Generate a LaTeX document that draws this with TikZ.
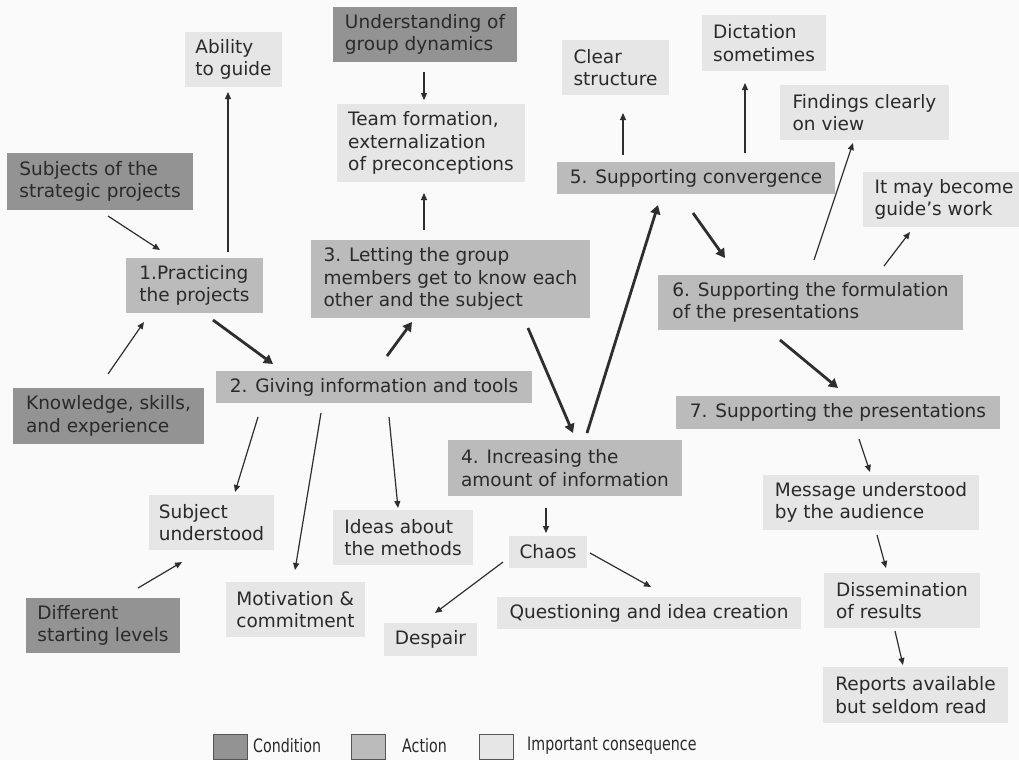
\documentclass[tikz,border=0pt]{standalone}
\usepackage{fontspec}
\setmainfont{DejaVu Sans}
\newfontfamily\legendfont[FakeStretch=0.77]{DejaVu Sans}
\usetikzlibrary{arrows.meta}
\definecolor{bgcol}{HTML}{FAFAFA}
\definecolor{condfill}{HTML}{939393}
\definecolor{actfill}{HTML}{BBBBBB}
\definecolor{consfill}{HTML}{E6E6E6}
\definecolor{textcol}{HTML}{2A2A2A}
\definecolor{arrowcol}{HTML}{2E2E2E}
\definecolor{swatchline}{HTML}{555555}
\begin{document}
\begin{tikzpicture}[x=1pt,y=-1pt,
  box/.style={rectangle, inner sep=0pt, align=left, text=textcol,
    font=\fontsize{18.5}{22.5}\selectfont},
  cond/.style={box, fill=condfill},
  act/.style={box, fill=actfill},
  cons/.style={box, fill=consfill},
  sz/.style 2 args={minimum width=#1pt, minimum height=#2pt},
  thinarrow/.style={draw=arrowcol, line width=1.2pt, -{Triangle[length=7pt,width=6pt]}},
  thickarrow/.style={draw=arrowcol, line width=2.8pt, -{Triangle[length=9pt,width=10pt]}},
  swatch/.style={rectangle, draw=swatchline, line width=0.8pt, minimum width=34pt, minimum height=25pt, inner sep=0pt},
  legtext/.style={anchor=west, inner sep=0pt, text=textcol, font=\legendfont\fontsize{18.5}{22.5}\selectfont}
]
% canvas
\fill[bgcol] (0,0) rectangle (1019,760);
\useasboundingbox (0,0) rectangle (1019,760);

% conditions
\node[cond, sz={186}{57}] (subj)  at (100,181.5)  {Subjects of the\\strategic projects};
\node[cond, sz={184}{55}] (und)   at (425,34.5)   {Understanding of\\group dynamics};
\node[cond, sz={191}{56}] (know)  at (108.5,416)  {Knowledge, skills,\\and experience};
\node[cond, sz={154}{55}] (diff)  at (103,625.5)  {Different\\starting levels};

% actions
\node[act, sz={137}{55}] (p1) at (194.5,285.5) {1.Practicing\\the projects};
\node[act, sz={316}{32}] (p2) at (374,387)     {2. Giving information and tools};
\node[act, sz={279}{78}] (p3) at (450.5,279)   {3. Letting the group\\members get to know each\\other and the subject};
\node[act, sz={234}{56}] (p4) at (565,468)     {4. Increasing the\\amount of information};
\node[act, sz={278}{32}] (p5) at (696,178)     {5. Supporting convergence};
\node[act, sz={305}{55}] (p6) at (810.5,302.5) {6. Supporting the formulation\\of the presentations};
\node[act, sz={324}{33}] (p7) at (838,412.5)   {7. Supporting the presentations};

% consequences
\node[cons, sz={97}{55}]  (abil)  at (233.5,59.5) {Ability\\to guide};
\node[cons, sz={188}{78}] (team)  at (431,143)    {Team formation,\\externalization\\of preconceptions};
\node[cons, sz={107}{55}] (clear) at (615.5,67.5) {Clear\\structure};
\node[cons, sz={124}{56}] (dict)  at (764,43)     {Dictation\\sometimes};
\node[cons, sz={169}{55}] (find)  at (864.5,112.5){Findings clearly\\on view};
\node[cons, sz={162}{55}] (guide) at (944,199.5)  {It may become\\guide's work};
\node[cons, sz={125}{55}] (subu)  at (211.5,522.5){Subject\\understood};
\node[cons, sz={139}{55}] (motiv) at (295.5,609.5){Motivation \&\\commitment};
\node[cons, sz={140}{55}] (ideas) at (403,537.5)  {Ideas about\\the methods};
\node[cons, sz={78}{32}]  (chaos) at (548,552)    {Chaos};
\node[cons, sz={93}{33}]  (desp)  at (430.5,639.5){Despair};
\node[cons, sz={304}{32}] (quest) at (649,613)    {Questioning and idea creation};
\node[cons, sz={216}{55}] (msg)   at (871,502.5)  {Message understood\\by the audience};
\node[cons, sz={156}{55}] (diss)  at (902,600.5)  {Dissemination\\of results};
\node[cons, sz={185}{56}] (rep)   at (915.5,695)  {Reports available\\but seldom read};

% main sequence of actions
\draw[thickarrow] ([shift={(18.5,34.5)}]p1.center) -- ([shift={(-101,-23)}]p2.center);
\draw[thickarrow] ([shift={(13,-31)}]p2.center) -- ([shift={(-38.5,43)}]p3.center);
\draw[thickarrow] ([shift={(77.5,49)}]p3.center) -- ([shift={(8,-35)}]p4.center);
\draw[thickarrow] ([shift={(22,-35)}]p4.center) -- ([shift={(-38,27)}]p5.center);
\draw[thickarrow] ([shift={(-3,35)}]p5.center) -- ([shift={(-85.5,-44.5)}]p6.center);
\draw[thickarrow] ([shift={(-30.5,37.5)}]p6.center) -- ([shift={(0,-24.5)}]p7.center);

% conditions and consequences
\draw[thinarrow] ([shift={(33.5,-33.5)}]p1.center) -- ([shift={(-5.5,32.5)}]abil.center);
\draw[thinarrow] ([shift={(8,34.5)}]subj.center) -- ([shift={(-34.5,-35.5)}]p1.center);
\draw[thinarrow] ([shift={(-0.5,-42)}]know.center) -- ([shift={(-50.5,36.5)}]p1.center);
\draw[thinarrow] ([shift={(-26.5,-49)}]p3.center) -- ([shift={(-7,50)}]team.center);
\draw[thinarrow] ([shift={(-1,37.5)}]und.center) -- ([shift={(-7,-43)}]team.center);
\draw[thinarrow] ([shift={(-73,-23)}]p5.center) -- ([shift={(7.5,45.5)}]clear.center);
\draw[thinarrow] ([shift={(49,-25)}]p5.center) -- ([shift={(-19,40)}]dict.center);
\draw[thinarrow] ([shift={(3.5,-42.5)}]p6.center) -- ([shift={(-11.5,30.5)}]find.center);
\draw[thinarrow] ([shift={(73.5,-36.5)}]p6.center) -- ([shift={(-34,32.5)}]guide.center);
\draw[thinarrow] ([shift={(21,26.5)}]p7.center) -- ([shift={(-1,-30.5)}]msg.center);
\draw[thinarrow] ([shift={(6,32.5)}]msg.center) -- ([shift={(-16,-32.5)}]diss.center);
\draw[thinarrow] ([shift={(-7,30.5)}]diss.center) -- ([shift={(-12.5,-30)}]rep.center);
\draw[thinarrow] ([shift={(-116,30)}]p2.center) -- ([shift={(23.5,-30.5)}]subu.center);
\draw[thinarrow] ([shift={(35,-37.5)}]diff.center) -- ([shift={(-29.5,39.5)}]subu.center);
\draw[thinarrow] ([shift={(-53,26)}]p2.center) -- ([shift={(-0.5,-39.5)}]motiv.center);
\draw[thinarrow] ([shift={(15,30)}]p2.center) -- ([shift={(-5,-29.5)}]ideas.center);
\draw[thinarrow] ([shift={(-19,40)}]p4.center) -- ([shift={(-2,-19)}]chaos.center);
\draw[thinarrow] ([shift={(-45,10)}]chaos.center) -- ([shift={(4.5,-26.5)}]desp.center);
\draw[thinarrow] ([shift={(42,1)}]chaos.center) -- ([shift={(2,-26)}]quest.center);

% legend
\node[swatch, fill=condfill] (lcond) at (230,746.5) {};
\node[legtext] (tcond) at (253,746) {Condition};
\node[swatch, fill=actfill] (lact) at (368.5,746.5) {};
\node[legtext] (tact) at (402,746) {Action};
\node[swatch, fill=consfill] (lcons) at (496,746.5) {};
\node[legtext] (tcons) at (527,746) {Important consequence};
\end{tikzpicture}
\end{document}
